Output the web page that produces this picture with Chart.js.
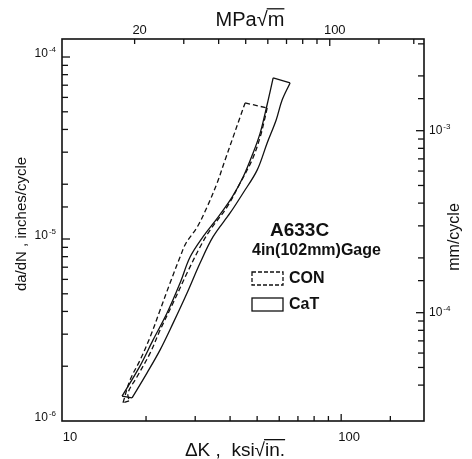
<!DOCTYPE html>
<html><head><meta charset="utf-8">
<script src="https://cdn.jsdelivr.net/npm/chart.js@4"></script>
<style>html,body{margin:0;padding:0;background:#fff}#w{width:472px;height:459px}</style>
</head><body>
<div id="w"><canvas id="c" width="472" height="459"></canvas></div>
<script>
// ---- data (ΔK in ksi√in., da/dN in inches/cycle) ----
// CON band (dashed): low-ΔK edge (bottom→top) and high-ΔK edge (top→bottom)
const conLeftK = [16.54,17.53,19.04,20.68,22.46,24.38,26.48,27.82,30.47,33.09,35.94,38.39,41.01,43.45,45.28];
const conLeftRate = [1.26e-6,1.68e-6,2.16e-6,2.89e-6,4.07e-6,5.73e-6,7.96e-6,9.51e-6,1.16e-5,1.50e-5,2.03e-5,2.72e-5,3.63e-5,4.68e-5,5.59e-5];
const conRightK = [54.31,53.42,51.26,47.97,43.45,39.03,33.92,31.23,28.05,25.0,22.46,20.68,18.57,17.24,17.39];
const conRightRate = [5.25e-5,4.68e-5,3.63e-5,2.72e-5,2.03e-5,1.50e-5,1.12e-5,9.04e-6,6.50e-6,4.45e-6,3.16e-6,2.36e-6,1.75e-6,1.43e-6,1.29e-6];
// CaT band (solid)
const catLeftK = [16.41,19.04,21.20,23.78,26.48,28.76,32.02,36.24,40.67,44.54,48.36,51.26,53.42,54.76,57.06];
const catLeftRate = [1.37e-6,2.01e-6,2.79e-6,3.92e-6,5.73e-6,7.96e-6,1.03e-5,1.32e-5,1.70e-5,2.19e-5,2.97e-5,3.82e-5,4.92e-5,5.80e-5,7.67e-5];
const catRightK = [65.62,61.44,58.5,54.31,50.0,44.54,40.01,34.77,31.23,28.05,25.0,22.46,20.17,17.82];
const catRightRate = [7.20e-5,5.80e-5,4.51e-5,3.37e-5,2.39e-5,1.79e-5,1.39e-5,1.03e-5,7.38e-6,5.05e-6,3.45e-6,2.46e-6,1.84e-6,1.34e-6];

const bottomTickLabels = [10, 100];        // ksi√in.
const topTickLabels = [20, 100];           // MPa√m
const leftTickLabels = [1e-6, 1e-5, 1e-4]; // inches/cycle
const rightTickLabels = [1e-4, 1e-3];      // mm/cycle

const K_MIN = 10, K_MAX = 198;
const R_MIN = 1e-6, R_MAX = 1.256e-4;
const KSI_TO_MPA = 1.0988, IN_TO_MM = 25.4;

const toPts = (xs, ys) => xs.map((x, i) => ({x, y: ys[i]}));
const last = arr => arr[arr.length - 1];

const FONT = "'Liberation Sans', Arial, sans-serif";

function powLabel(ctx, v, x, y, align) {
  const e = String(Math.round(Math.log10(v)));
  ctx.font = "12px " + FONT;
  const w1 = ctx.measureText("10").width;
  ctx.font = "8px " + FONT;
  const w2 = ctx.measureText(e).width;
  const tot = w1 + w2 + 1;
  let x0 = align === 'right' ? x - tot : x;
  ctx.textAlign = 'left'; ctx.textBaseline = 'middle';
  ctx.font = "12px " + FONT; ctx.fillText("10", x0, y);
  ctx.font = "8px " + FONT; ctx.fillText(e, x0 + w1 + 1, y - 4);
}

const overlay = {
  id: 'overlay',
  afterDraw(chart) {
    const ctx = chart.ctx, a = chart.chartArea, S = chart.scales;
    ctx.save();
    ctx.fillStyle = '#111'; ctx.strokeStyle = '#111';
    ctx.lineWidth = 1.6;
    ctx.strokeRect(a.left, a.top, a.right - a.left, a.bottom - a.top);
    const major = v => Math.abs(Math.log10(v) - Math.round(Math.log10(v))) < 1e-6;
    const seg = (x1, y1, x2, y2) => { ctx.beginPath(); ctx.moveTo(x1, y1); ctx.lineTo(x2, y2); ctx.stroke(); };
    ctx.lineWidth = 1.3;
    S.x.ticks.forEach(t => { const p = S.x.getPixelForValue(t.value); if (p < a.left + 2 || p > a.right - 2) return; seg(p, a.bottom, p, a.bottom - (major(t.value) ? 7 : 5)); });
    S.x2.ticks.forEach(t => { const p = S.x2.getPixelForValue(t.value); if (p < a.left + 2 || p > a.right - 2) return; seg(p, a.top, p, a.top + (major(t.value) ? 7 : 5)); });
    S.y.ticks.forEach(t => { const p = S.y.getPixelForValue(t.value); if (p < a.top + 2 || p > a.bottom - 2) return; seg(a.left, p, a.left + (major(t.value) ? 8 : 6), p); });
    S.y2.ticks.forEach(t => { const p = S.y2.getPixelForValue(t.value); if (p < a.top + 2 || p > a.bottom - 2) return; seg(a.right, p, a.right - (major(t.value) ? 8 : 6), p); });

    // tick labels
    ctx.font = "13px " + FONT; ctx.textAlign = 'center'; ctx.textBaseline = 'middle';
    bottomTickLabels.forEach(v => ctx.fillText(String(v), S.x.getPixelForValue(v) + 8, a.bottom + 16));
    topTickLabels.forEach(v => ctx.fillText(String(v), S.x2.getPixelForValue(v) + 5, a.top - 9));
    leftTickLabels.forEach(v => powLabel(ctx, v, a.left - 6, S.y.getPixelForValue(v) - 3, 'right'));
    rightTickLabels.forEach(v => powLabel(ctx, v, a.right + 5, S.y2.getPixelForValue(v), 'left'));

    // titles with radical + overline
    const sqrtTitle = (pre, under, cx, cy, size) => {
      ctx.font = size + "px " + FONT; ctx.textBaseline = 'alphabetic'; ctx.textAlign = 'left';
      const wp = ctx.measureText(pre).width, wr = ctx.measureText('√').width, wu = ctx.measureText(under).width;
      const x0 = cx - (wp + wr + wu) / 2;
      ctx.fillText(pre + '√' + under, x0, cy);
      ctx.lineWidth = 1.3;
      const oy = cy - size * 0.86;
      seg(x0 + wp + wr - 1, oy, x0 + wp + wr + wu, oy);
    };
    sqrtTitle('MPa', 'm', 250, 26, 20);
    sqrtTitle('\u0394K ,  ksi', 'in.', 235, 456, 19);

    // side titles
    ctx.font = "15px " + FONT; ctx.textAlign = 'center'; ctx.textBaseline = 'middle';
    ctx.save(); ctx.translate(22, 224); ctx.rotate(-Math.PI / 2); ctx.fillText('da/dN , inches/cycle', 0, 0); ctx.restore();
    ctx.font = "16px " + FONT;
    ctx.save(); ctx.translate(455, 237); ctx.rotate(-Math.PI / 2); ctx.fillText('mm/cycle', 0, 0); ctx.restore();

    // legend
    ctx.textAlign = 'left'; ctx.textBaseline = 'middle';
    ctx.font = "bold 19px " + FONT; ctx.fillText('A633C', 270, 231);
    ctx.font = "bold 16px " + FONT; ctx.fillText('4in(102mm)Gage', 252, 251);
    ctx.lineWidth = 1.3;
    ctx.setLineDash([4, 2]); ctx.strokeRect(252, 272, 31, 13); ctx.setLineDash([]);
    ctx.strokeRect(252, 298, 31, 13);
    ctx.font = "bold 16px " + FONT;
    ctx.fillText('CON', 289, 279); ctx.fillText('CaT', 289, 305);
    ctx.restore();
  }
};

const fixed = (dim, val) => s => { s[dim] = val; };
const axisBase = { type: 'logarithmic', grid: { display: false, drawTicks: false }, border: { display: false }, ticks: { display: false } };
const line = (pts, dashed, tension) => ({ data: pts, showLine: true, borderColor: '#111', borderWidth: 1.3, borderDash: dashed ? [5, 3] : [], tension, pointRadius: 0, fill: false, xAxisID: 'x', yAxisID: 'y' });

new Chart(document.getElementById('c'), {
  type: 'scatter',
  data: {
    datasets: [
      line(toPts(conLeftK, conLeftRate), true, 0.35),
      line(toPts(conRightK, conRightRate), true, 0.35),
      line([{x: last(conLeftK), y: last(conLeftRate)}, {x: conRightK[0], y: conRightRate[0]}], true, 0),
      line([{x: last(conRightK), y: last(conRightRate)}, {x: conLeftK[0], y: conLeftRate[0]}], true, 0),
      line(toPts(catLeftK, catLeftRate), false, 0.35),
      line(toPts(catRightK, catRightRate), false, 0.35),
      line([{x: last(catLeftK), y: last(catLeftRate)}, {x: catRightK[0], y: catRightRate[0]}], false, 0),
      line([{x: last(catRightK), y: last(catRightRate)}, {x: catLeftK[0], y: catLeftRate[0]}], false, 0)
    ]
  },
  options: {
    responsive: false, animation: false, devicePixelRatio: 1,
    layout: { padding: 0 },
    plugins: { legend: { display: false }, tooltip: { enabled: false } },
    scales: {
      x: { ...axisBase, position: 'bottom', min: K_MIN, max: K_MAX, afterFit: fixed('height', 38) },
      x2: { ...axisBase, position: 'top', min: K_MIN * KSI_TO_MPA, max: K_MAX * KSI_TO_MPA, afterFit: fixed('height', 39) },
      y: { ...axisBase, position: 'left', min: R_MIN, max: R_MAX, afterFit: fixed('width', 62) },
      y2: { ...axisBase, position: 'right', min: R_MIN * IN_TO_MM, max: R_MAX * IN_TO_MM, afterFit: fixed('width', 48) }
    }
  },
  plugins: [overlay]
});
</script>
</body></html>
